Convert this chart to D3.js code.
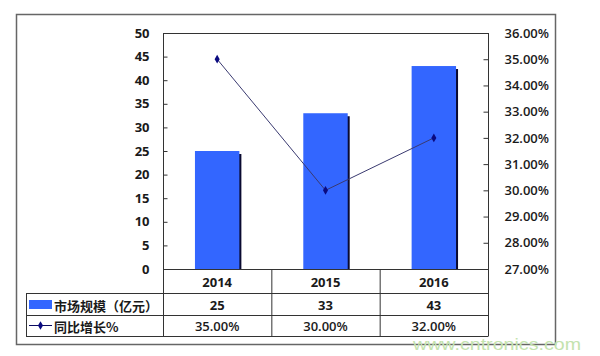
<!DOCTYPE html>
<html><head><meta charset="utf-8">
<script src="https://cdn.jsdelivr.net/npm/d3@7/dist/d3.min.js"></script>
<style>
body{margin:0;background:#fff;}
svg{display:block;}
text{font-family:"Open Sans","Noto Sans CJK SC",sans-serif;fill:#1a1a1a;}
</style></head>
<body>
<svg id="c" width="600" height="356"></svg>
<script>
const categories = ["2014", "2015", "2016"];
const marketSize = [25, 33, 43];
const growth = [35.0, 30.0, 32.0];
const leftTicks = [0, 5, 10, 15, 20, 25, 30, 35, 40, 45, 50];
const rightTicks = [27, 28, 29, 30, 31, 32, 33, 34, 35, 36];
const seriesNames = ["市场规模（亿元）", "同比增长%"];
const watermark = "www.cntronics.com";

const svg = d3.select("#c");
const L = 163, R = 488, T = 33, B = 269;
const rowY = [269, 293, 315, 336];
const tableLeft = 26;

// outer frame
svg.append("rect").attr("x",16.5).attr("y",14.5).attr("width",539).attr("height",330)
  .attr("fill","none").attr("stroke","#666").attr("stroke-width",1.5);

const x = d3.scaleBand().domain(categories).range([L, R]).padding(0);
const y = d3.scaleLinear().domain([0, 50]).range([B, T]);
const y2 = d3.scaleLinear().domain([27, 36]).range([B, T]);

// plot top border
svg.append("line").attr("x1",L).attr("x2",R).attr("y1",T+0.5).attr("y2",T+0.5).attr("stroke","#333");

// bars
const bw = x.bandwidth()*0.41;
const g = svg.append("g");
categories.forEach((c,i)=>{
  const cx = x(c)+x.bandwidth()/2;
  const x0 = cx - bw/2;
  g.append("rect").attr("x",x0+2).attr("y",y(marketSize[i])+3).attr("width",bw).attr("height",B-y(marketSize[i])-3)
    .attr("fill","#0a0a30");
  g.append("rect").attr("x",x0).attr("y",y(marketSize[i])).attr("width",bw).attr("height",B-y(marketSize[i]))
    .attr("fill","#3366ff");
});

// left axis
const la = d3.axisLeft(y).tickValues(leftTicks).tickSize(-4).tickPadding(14).tickFormat(d3.format("d"));
const lg = svg.append("g").attr("transform",`translate(${L+0.5},0)`).call(la);
lg.select(".domain").remove();
lg.append("line").attr("y1",T).attr("y2",rowY[3]).attr("stroke","#333");
lg.selectAll(".tick line").attr("stroke","#333");
lg.selectAll(".tick text").attr("fill","#1a1a1a").style("font-size","13px").style("font-weight","bold")
  .style("font-family",'"Open Sans",sans-serif');

// right axis
const ra = d3.axisRight(y2).tickValues(rightTicks).tickSize(-5).tickPadding(16).tickFormat(d=>d.toFixed(2)+"%");
const rg = svg.append("g").attr("transform",`translate(${R+0.5},0)`).call(ra);
rg.select(".domain").remove();
rg.append("line").attr("y1",T).attr("y2",rowY[3]).attr("stroke","#333");
rg.selectAll(".tick line").attr("stroke","#333");
rg.selectAll(".tick text").attr("fill","#1a1a1a").style("font-size","13px").style("font-weight","600")
  .style("font-family",'"Open Sans",sans-serif');

// line series
const line = d3.line().x((d,i)=>x(categories[i])+x.bandwidth()/2).y(d=>y2(d));
svg.append("path").datum(growth).attr("d",line).attr("fill","none").attr("stroke","#3a3a70").attr("stroke-width",1);
const diamond = d3.symbol().type(d3.symbolDiamond).size(22);
growth.forEach((v,i)=>{
  svg.append("path").attr("d",diamond).attr("transform",`translate(${x(categories[i])+x.bandwidth()/2},${y2(v)})`)
    .attr("fill","#0a0a80");
});

// table lines
svg.append("line").attr("x1",L).attr("x2",R).attr("y1",rowY[0]+0.5).attr("y2",rowY[0]+0.5).attr("stroke","#333");
[1,2,3].forEach(k=>{
  svg.append("line").attr("x1",tableLeft).attr("x2",R+0.5).attr("y1",rowY[k]+0.5).attr("y2",rowY[k]+0.5).attr("stroke","#333");
});
svg.append("line").attr("x1",tableLeft+0.5).attr("x2",tableLeft+0.5).attr("y1",rowY[1]).attr("y2",rowY[3]).attr("stroke","#333");
categories.slice(1).forEach(c=>{
  svg.append("line").attr("x1",x(c)+0.5).attr("x2",x(c)+0.5).attr("y1",rowY[0]).attr("y2",rowY[3]).attr("stroke","#333");
});

// table texts
categories.forEach((c,i)=>{
  const cx = x(c)+x.bandwidth()/2;
  svg.append("text").attr("x",cx).attr("y",(rowY[0]+rowY[1])/2+1).attr("text-anchor","middle").attr("dominant-baseline","central")
    .style("font-size","13px").style("font-weight","bold").text(c);
  svg.append("text").attr("x",cx).attr("y",(rowY[1]+rowY[2])/2+1).attr("text-anchor","middle").attr("dominant-baseline","central")
    .style("font-size","13px").style("font-weight","bold").text(marketSize[i]);
  svg.append("text").attr("x",cx).attr("y",(rowY[2]+rowY[3])/2).attr("text-anchor","middle").attr("dominant-baseline","central")
    .style("font-size","13px").style("font-weight","600").text(growth[i].toFixed(2)+"%");
});

// legend keys
svg.append("rect").attr("x",29).attr("y",300).attr("width",23).attr("height",9).attr("fill","#3366ff");
svg.append("text").attr("x",54).attr("y",(rowY[1]+rowY[2])/2+1).attr("dominant-baseline","central")
  .style("font-size","13px").style("font-weight","bold").style("font-family",'"Noto Sans CJK SC",sans-serif').text(seriesNames[0]);
const ly = (rowY[2]+rowY[3])/2;
svg.append("line").attr("x1",29).attr("x2",52).attr("y1",ly).attr("y2",ly).attr("stroke","#0a0a60").attr("stroke-width",1);
svg.append("path").attr("d",diamond).attr("transform",`translate(40.5,${ly})`).attr("fill","#0a0a80");
svg.append("text").attr("x",54).attr("y",ly+1).attr("dominant-baseline","central")
  .style("font-size","13px").style("font-weight","bold").style("font-family",'"Noto Sans CJK SC",sans-serif').text(seriesNames[1]);

// watermark
svg.append("text").attr("x",413).attr("y",350).style("font-size","17px").style("font-family",'"Liberation Sans",Arial,sans-serif')
  .attr("textLength",168).attr("lengthAdjust","spacingAndGlyphs")
  .style("fill","#c4e3ae").text(watermark);
</script>
</body></html>
